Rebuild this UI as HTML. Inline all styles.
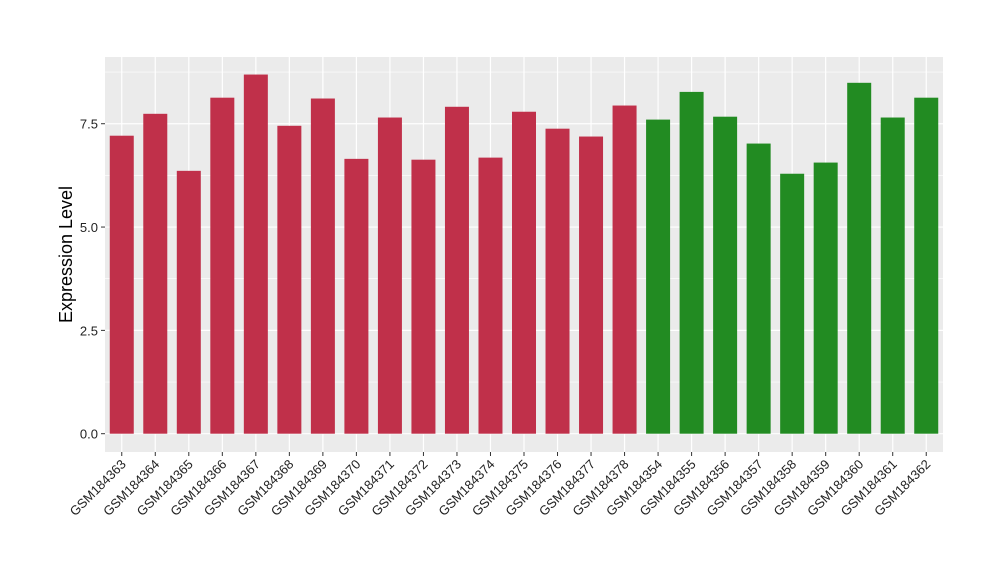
<!DOCTYPE html>
<html><head><meta charset="utf-8"><style>body{margin:0;background:#fff}svg{display:block;font-family:"Liberation Sans",Arial,sans-serif}</style></head>
<body>
<svg id="chart" width="1000" height="580"></svg>
<script>
const categories=["GSM184363","GSM184364","GSM184365","GSM184366","GSM184367","GSM184368","GSM184369","GSM184370","GSM184371","GSM184372","GSM184373","GSM184374","GSM184375","GSM184376","GSM184377","GSM184378","GSM184354","GSM184355","GSM184356","GSM184357","GSM184358","GSM184359","GSM184360","GSM184361","GSM184362"];
const values=[7.21,7.74,6.36,8.13,8.69,7.45,8.11,6.65,7.65,6.63,7.91,6.68,7.79,7.38,7.19,7.94,7.60,8.27,7.67,7.02,6.29,6.56,8.49,7.65,8.13];
const groups=["a","a","a","a","a","a","a","a","a","a","a","a","a","a","a","a","b","b","b","b","b","b","b","b","b"];
const yTicks=[0,2.5,5,7.5];
const yTickLabels=["0.0","2.5","5.0","7.5"];
const NS="http://www.w3.org/2000/svg";
const svg=document.getElementById("chart");
const P={l:105,r:943,t:57,b:452};
const y=v=>433.7-v*41.33;
const step=(P.r-P.l)/categories.length;
const x=i=>P.l+step*(i+0.5);
const bw=24;
function mk(t,a,parent){const e=document.createElementNS(NS,t);for(const k in a)e.setAttribute(k,a[k]);(parent||svg).appendChild(e);return e;}
const bg=mk("rect",{x:P.l,y:P.t,width:P.r-P.l,height:P.b-P.t,fill:"#ebebeb"});


for(let k=0;k<yTicks.length-1;k++){const m=(yTicks[k]+yTicks[k+1])/2;const g=mk("line",{x1:P.l,x2:P.r,y1:y(m),y2:y(m),stroke:"#fff","stroke-width":0.6});

}
{const m=yTicks[yTicks.length-1]+1.25;if(y(m)>P.t){const g=mk("line",{x1:P.l,x2:P.r,y1:y(m),y2:y(m),stroke:"#fff","stroke-width":0.6});

}}
yTicks.forEach((t,i)=>{const g=mk("line",{x1:P.l,x2:P.r,y1:y(t),y2:y(t),stroke:"#fff","stroke-width":1.2});


const tk=mk("line",{x1:P.l-4,x2:P.l,y1:y(t),y2:y(t),stroke:"#333","stroke-width":1});


const l=mk("text",{x:P.l-7,y:y(t)+5,"text-anchor":"end","font-size":13,fill:"#222"});l.textContent=yTickLabels[i];

});
categories.forEach((c,i)=>{const g=mk("line",{x1:x(i),x2:x(i),y1:P.t,y2:P.b,stroke:"#fff","stroke-width":1.2});

});
categories.forEach((c,i)=>{const b=mk("rect",{x:x(i)-bw/2,y:y(values[i]),width:bw,height:y(0)-y(values[i]),fill:groups[i]==="a"?"#c0304a":"#228b22"});


const tk=mk("line",{x1:x(i),x2:x(i),y1:P.b,y2:P.b+4,stroke:"#333","stroke-width":1});


const l=mk("text",{x:x(i)+5,y:P.b+13,"text-anchor":"end","font-size":13,fill:"#222",transform:`rotate(-45 ${x(i)+5} ${P.b+13})`});l.textContent=c;

});
const yt=mk("text",{x:72,y:(P.t+P.b)/2,"text-anchor":"middle","font-size":18,fill:"#000",transform:`rotate(-90 72 ${(P.t+P.b)/2})`});yt.textContent="Expression Level";


</script>
</body></html>
